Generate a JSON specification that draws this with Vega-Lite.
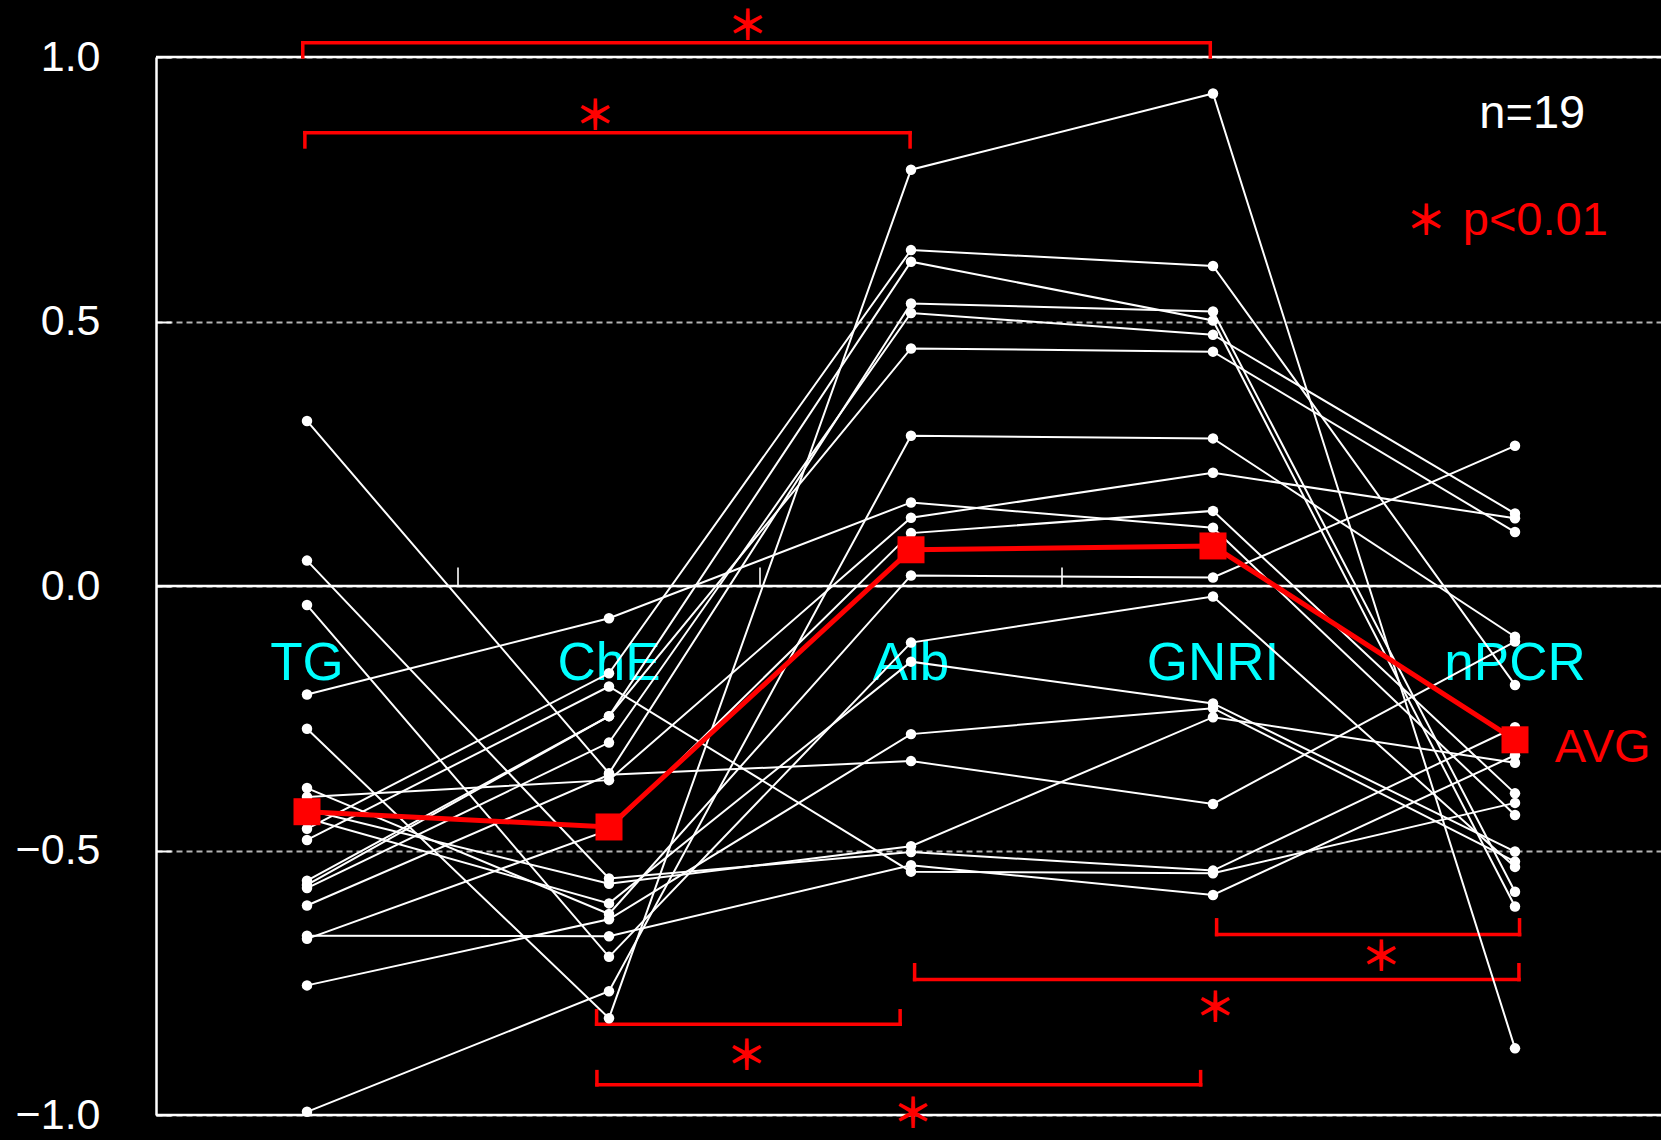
{
  "$schema": "https://vega.github.io/schema/vega-lite/v6.json",
  "width": 1510,
  "height": 1058,
  "autosize": {"type": "none"},
  "padding": {"left": 156, "top": 57, "right": 0, "bottom": 25},
  "background": "black",
  "config": {"view": {"stroke": null}, "font": "Liberation Sans"},
  "datasets": {
    "scores": [
      {"id": 1, "TG": -0.270, "ChE": -0.817, "Alb": 0.787, "GNRI": 0.931, "nPCR": -0.874},
      {"id": 2, "TG": -0.459, "ChE": -0.165, "Alb": 0.635, "GNRI": 0.605, "nPCR": -0.187},
      {"id": 3, "TG": -0.565, "ChE": -0.246, "Alb": 0.613, "GNRI": 0.502, "nPCR": -0.606},
      {"id": 4, "TG": 0.312, "ChE": -0.354, "Alb": 0.534, "GNRI": 0.519, "nPCR": -0.578},
      {"id": 5, "TG": -0.571, "ChE": -0.296, "Alb": 0.516, "GNRI": 0.475, "nPCR": 0.137},
      {"id": 6, "TG": -0.557, "ChE": -0.246, "Alb": 0.449, "GNRI": 0.443, "nPCR": 0.102},
      {"id": 7, "TG": -0.994, "ChE": -0.766, "Alb": 0.284, "GNRI": 0.279, "nPCR": -0.096},
      {"id": 8, "TG": -0.205, "ChE": -0.061, "Alb": 0.158, "GNRI": 0.110, "nPCR": -0.433},
      {"id": 9, "TG": -0.399, "ChE": -0.367, "Alb": 0.129, "GNRI": 0.214, "nPCR": 0.128},
      {"id": 10, "TG": -0.667, "ChE": -0.461, "Alb": 0.100, "GNRI": 0.142, "nPCR": -0.392},
      {"id": 11, "TG": -0.382, "ChE": -0.620, "Alb": 0.020, "GNRI": 0.016, "nPCR": 0.265},
      {"id": 12, "TG": -0.036, "ChE": -0.701, "Alb": -0.107, "GNRI": -0.020, "nPCR": -0.531},
      {"id": 13, "TG": -0.439, "ChE": -0.600, "Alb": -0.143, "GNRI": -0.222, "nPCR": -0.502},
      {"id": 14, "TG": -0.755, "ChE": -0.630, "Alb": -0.280, "GNRI": -0.231, "nPCR": -0.521},
      {"id": 15, "TG": -0.604, "ChE": -0.357, "Alb": -0.331, "GNRI": -0.412, "nPCR": -0.105},
      {"id": 16, "TG": -0.423, "ChE": -0.563, "Alb": -0.492, "GNRI": -0.248, "nPCR": -0.334},
      {"id": 17, "TG": 0.048, "ChE": -0.553, "Alb": -0.503, "GNRI": -0.538, "nPCR": -0.267},
      {"id": 18, "TG": -0.661, "ChE": -0.662, "Alb": -0.528, "GNRI": -0.584, "nPCR": -0.320},
      {"id": 19, "TG": -0.480, "ChE": -0.190, "Alb": -0.540, "GNRI": -0.543, "nPCR": -0.410}
    ],
    "brackets": [
      {"pair": "TG-GNRI", "from": -0.014, "to": 2.991, "level": 1.027, "tip": 1.0},
      {"pair": "TG-Alb", "from": -0.007, "to": 1.997, "level": 0.857, "tip": 0.830},
      {"pair": "ChE-Alb", "from": 0.959, "to": 1.964, "level": -0.8285, "tip": -0.803},
      {"pair": "ChE-GNRI", "from": 0.960, "to": 2.959, "level": -0.943, "tip": -0.918},
      {"pair": "Alb-nPCR", "from": 2.012, "to": 4.013, "level": -0.744, "tip": -0.716},
      {"pair": "GNRI-nPCR", "from": 3.012, "to": 4.015, "level": -0.659, "tip": -0.631}
    ],
    "stars": [
      {"label": "＊", "pos": 1.459, "v": 1.064},
      {"label": "＊", "pos": 0.954, "v": 0.895},
      {"label": "＊", "pos": 1.455, "v": -0.883},
      {"label": "＊", "pos": 2.006, "v": -0.992},
      {"label": "＊", "pos": 3.007, "v": -0.792},
      {"label": "＊", "pos": 3.556, "v": -0.695},
      {"label": "＊", "pos": 3.705, "v": 0.695}
    ]
  },
  "resolve": {"scale": {"x": "independent"}},
  "layer": [
    {
      "data": {"values": [{"v": 1}, {"v": 0}, {"v": -1}]},
      "mark": {"type": "rule", "color": "white", "strokeWidth": 2.4},
      "encoding": {
        "y": {
          "field": "v", "type": "quantitative",
          "scale": {"domain": [-1, 1], "nice": false, "zero": false},
          "axis": {
            "values": [-1, -0.5, 0, 0.5, 1], "format": ".1f", "title": null,
            "labelFont": "Liberation Sans", "labelFontSize": 43, "labelColor": "white",
            "labelPadding": 71, "labelOverlap": false, "labelFlush": false,
            "domainColor": "white", "domainWidth": 2.5,
            "tickColor": "white", "tickSize": -15, "tickWidth": 2,
            "grid": true, "gridColor": "#b4b4b4", "gridDash": [6, 4], "gridWidth": 1.8
          }
        }
      }
    },
    {
      "data": {"values": [{"pos": 0.5}, {"pos": 1.5}, {"pos": 2.5}]},
      "mark": {"type": "rule", "color": "white", "strokeWidth": 1.6},
      "encoding": {
        "x": {"field": "pos", "type": "quantitative", "scale": {"domain": [-0.5, 4.5], "nice": false, "zero": false}, "axis": null},
        "y": {"datum": 0, "scale": {"domain": [-1, 1], "nice": false, "zero": false}},
        "y2": {"datum": 0.035}
      }
    },
    {
      "data": {"name": "scores"},
      "transform": [
        {"fold": ["TG", "ChE", "Alb", "GNRI", "nPCR"], "as": ["param", "value"]},
        {"aggregate": [{"op": "count", "as": "n"}], "groupby": ["param"]}
      ],
      "mark": {"type": "text", "color": "#00ffff", "font": "Liberation Sans", "fontSize": 53, "baseline": "alphabetic", "align": "center"},
      "encoding": {
        "x": {"field": "param", "type": "nominal", "sort": ["TG", "ChE", "Alb", "GNRI", "nPCR"], "scale": {"type": "point", "padding": 0.5}, "axis": null},
        "y": {"datum": -0.178, "scale": {"domain": [-1, 1], "nice": false, "zero": false}},
        "text": {"field": "param"}
      }
    },
    {
      "data": {"name": "brackets"},
      "mark": {"type": "rule", "color": "#ff0000", "strokeWidth": 3.5, "strokeCap": "square"},
      "encoding": {
        "x": {"field": "from", "type": "quantitative", "scale": {"domain": [-0.5, 4.5], "nice": false, "zero": false}, "axis": null},
        "x2": {"field": "to"},
        "y": {"field": "level", "type": "quantitative", "scale": {"domain": [-1, 1], "nice": false, "zero": false}}
      }
    },
    {
      "data": {"name": "brackets"},
      "mark": {"type": "rule", "color": "#ff0000", "strokeWidth": 3.5, "strokeCap": "square"},
      "encoding": {
        "x": {"field": "from", "type": "quantitative", "scale": {"domain": [-0.5, 4.5], "nice": false, "zero": false}, "axis": null},
        "y": {"field": "level", "type": "quantitative", "scale": {"domain": [-1, 1], "nice": false, "zero": false}},
        "y2": {"field": "tip"}
      }
    },
    {
      "data": {"name": "brackets"},
      "mark": {"type": "rule", "color": "#ff0000", "strokeWidth": 3.5, "strokeCap": "square"},
      "encoding": {
        "x": {"field": "to", "type": "quantitative", "scale": {"domain": [-0.5, 4.5], "nice": false, "zero": false}, "axis": null},
        "y": {"field": "level", "type": "quantitative", "scale": {"domain": [-1, 1], "nice": false, "zero": false}},
        "y2": {"field": "tip"}
      }
    },
    {
      "data": {"name": "stars"},
      "mark": {"type": "text", "color": "#ff0000", "font": "Noto Sans CJK JP", "fontSize": 41, "fontWeight": "bold", "align": "center", "baseline": "middle", "dy": 5},
      "encoding": {
        "x": {"field": "pos", "type": "quantitative", "scale": {"domain": [-0.5, 4.5], "nice": false, "zero": false}, "axis": null},
        "y": {"field": "v", "type": "quantitative", "scale": {"domain": [-1, 1], "nice": false, "zero": false}},
        "text": {"field": "label"}
      }
    },
    {
      "data": {"values": [{"note": "n=19", "pos": 3.882, "v": 0.865}]},
      "mark": {"type": "text", "color": "white", "font": "Liberation Sans", "fontSize": 47, "align": "left", "baseline": "alphabetic"},
      "encoding": {
        "x": {"field": "pos", "type": "quantitative", "scale": {"domain": [-0.5, 4.5], "nice": false, "zero": false}, "axis": null},
        "y": {"field": "v", "type": "quantitative", "scale": {"domain": [-1, 1], "nice": false, "zero": false}},
        "text": {"field": "note"}
      }
    },
    {
      "data": {"values": [{"note": "p<0.01", "pos": 3.827, "v": 0.6635}, {"note": "AVG", "pos": 4.132, "v": -0.332}]},
      "mark": {"type": "text", "color": "#ff0000", "font": "Liberation Sans", "fontSize": 47, "align": "left", "baseline": "alphabetic"},
      "encoding": {
        "x": {"field": "pos", "type": "quantitative", "scale": {"domain": [-0.5, 4.5], "nice": false, "zero": false}, "axis": null},
        "y": {"field": "v", "type": "quantitative", "scale": {"domain": [-1, 1], "nice": false, "zero": false}},
        "text": {"field": "note"}
      }
    },
    {
      "data": {"name": "scores"},
      "transform": [{"fold": ["TG", "ChE", "Alb", "GNRI", "nPCR"], "as": ["param", "value"]}],
      "mark": {"type": "line", "color": "white", "strokeWidth": 2},
      "encoding": {
        "x": {"field": "param", "type": "nominal", "sort": ["TG", "ChE", "Alb", "GNRI", "nPCR"], "scale": {"type": "point", "padding": 0.5}, "axis": null},
        "y": {"field": "value", "type": "quantitative", "scale": {"domain": [-1, 1], "nice": false, "zero": false}},
        "detail": {"field": "id", "type": "nominal"}
      }
    },
    {
      "data": {"name": "scores"},
      "transform": [{"fold": ["TG", "ChE", "Alb", "GNRI", "nPCR"], "as": ["param", "value"]}],
      "mark": {"type": "circle", "color": "white", "opacity": 1, "size": 110},
      "encoding": {
        "x": {"field": "param", "type": "nominal", "sort": ["TG", "ChE", "Alb", "GNRI", "nPCR"], "scale": {"type": "point", "padding": 0.5}, "axis": null},
        "y": {"field": "value", "type": "quantitative", "scale": {"domain": [-1, 1], "nice": false, "zero": false}}
      }
    },
    {
      "data": {"name": "scores"},
      "transform": [{"fold": ["TG", "ChE", "Alb", "GNRI", "nPCR"], "as": ["param", "value"]}],
      "mark": {"type": "line", "color": "#ff0000", "strokeWidth": 5},
      "encoding": {
        "x": {"field": "param", "type": "nominal", "sort": ["TG", "ChE", "Alb", "GNRI", "nPCR"], "scale": {"type": "point", "padding": 0.5}, "axis": null},
        "y": {"aggregate": "mean", "field": "value", "type": "quantitative", "scale": {"domain": [-1, 1], "nice": false, "zero": false}}
      }
    },
    {
      "data": {"name": "scores"},
      "transform": [{"fold": ["TG", "ChE", "Alb", "GNRI", "nPCR"], "as": ["param", "value"]}],
      "mark": {"type": "square", "color": "#ff0000", "opacity": 1, "size": 729},
      "encoding": {
        "x": {"field": "param", "type": "nominal", "sort": ["TG", "ChE", "Alb", "GNRI", "nPCR"], "scale": {"type": "point", "padding": 0.5}, "axis": null},
        "y": {"aggregate": "mean", "field": "value", "type": "quantitative", "scale": {"domain": [-1, 1], "nice": false, "zero": false}}
      }
    }
  ]
}
